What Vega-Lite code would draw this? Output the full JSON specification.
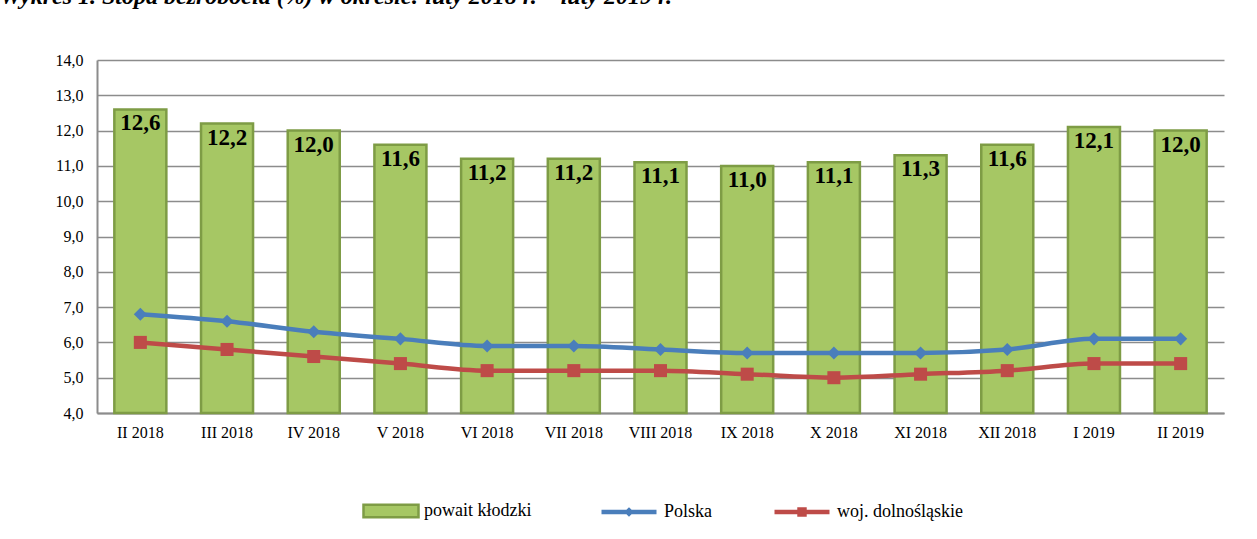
{
  "$schema": "https://vega.github.io/schema/vega-lite/v6.json",
  "width": 1127,
  "height": 353,
  "autosize": {"type": "none"},
  "padding": {"left": 97, "top": 60, "right": 33, "bottom": 126},
  "background": "white",
  "title": {
    "text": "Wykres 1. Stopa bezrobocia (%) w okresie: luty 2018 r. – luty 2019 r.",
    "anchor": "start",
    "frame": "group",
    "dx": -97,
    "offset": 24,
    "font": "Liberation Serif",
    "fontSize": 24,
    "fontStyle": "italic",
    "fontWeight": "bold",
    "color": "#000000",
    "baseline": "alphabetic"
  },
  "config": {
    "locale": {"number": {"decimal": ",", "thousands": " ", "grouping": [3], "currency": ["", " zł"]}},
    "view": {"stroke": null},
    "axis": {"labelFont": "Liberation Serif", "labelFontSize": 16, "labelColor": "#000000", "labelFontWeight": "normal"},
    "legend": {"labelFont": "Liberation Serif", "labelFontSize": 18, "labelColor": "#000000", "labelFontWeight": "normal"}
  },
  "data": {
    "values": [
      {"month": "II 2018", "series": "powait kłodzki", "value": 12.6},
      {"month": "III 2018", "series": "powait kłodzki", "value": 12.2},
      {"month": "IV 2018", "series": "powait kłodzki", "value": 12.0},
      {"month": "V 2018", "series": "powait kłodzki", "value": 11.6},
      {"month": "VI 2018", "series": "powait kłodzki", "value": 11.2},
      {"month": "VII 2018", "series": "powait kłodzki", "value": 11.2},
      {"month": "VIII 2018", "series": "powait kłodzki", "value": 11.1},
      {"month": "IX 2018", "series": "powait kłodzki", "value": 11.0},
      {"month": "X 2018", "series": "powait kłodzki", "value": 11.1},
      {"month": "XI 2018", "series": "powait kłodzki", "value": 11.3},
      {"month": "XII 2018", "series": "powait kłodzki", "value": 11.6},
      {"month": "I 2019", "series": "powait kłodzki", "value": 12.1},
      {"month": "II 2019", "series": "powait kłodzki", "value": 12.0},
      {"month": "II 2018", "series": "Polska", "value": 6.8},
      {"month": "III 2018", "series": "Polska", "value": 6.6},
      {"month": "IV 2018", "series": "Polska", "value": 6.3},
      {"month": "V 2018", "series": "Polska", "value": 6.1},
      {"month": "VI 2018", "series": "Polska", "value": 5.9},
      {"month": "VII 2018", "series": "Polska", "value": 5.9},
      {"month": "VIII 2018", "series": "Polska", "value": 5.8},
      {"month": "IX 2018", "series": "Polska", "value": 5.7},
      {"month": "X 2018", "series": "Polska", "value": 5.7},
      {"month": "XI 2018", "series": "Polska", "value": 5.7},
      {"month": "XII 2018", "series": "Polska", "value": 5.8},
      {"month": "I 2019", "series": "Polska", "value": 6.1},
      {"month": "II 2019", "series": "Polska", "value": 6.1},
      {"month": "II 2018", "series": "woj. dolnośląskie", "value": 6.0},
      {"month": "III 2018", "series": "woj. dolnośląskie", "value": 5.8},
      {"month": "IV 2018", "series": "woj. dolnośląskie", "value": 5.6},
      {"month": "V 2018", "series": "woj. dolnośląskie", "value": 5.4},
      {"month": "VI 2018", "series": "woj. dolnośląskie", "value": 5.2},
      {"month": "VII 2018", "series": "woj. dolnośląskie", "value": 5.2},
      {"month": "VIII 2018", "series": "woj. dolnośląskie", "value": 5.2},
      {"month": "IX 2018", "series": "woj. dolnośląskie", "value": 5.1},
      {"month": "X 2018", "series": "woj. dolnośląskie", "value": 5.0},
      {"month": "XI 2018", "series": "woj. dolnośląskie", "value": 5.1},
      {"month": "XII 2018", "series": "woj. dolnośląskie", "value": 5.2},
      {"month": "I 2019", "series": "woj. dolnośląskie", "value": 5.4},
      {"month": "II 2019", "series": "woj. dolnośląskie", "value": 5.4}
    ]
  },
  "encoding": {
    "x": {
      "field": "month",
      "type": "nominal",
      "scale": {
        "domain": ["II 2018", "III 2018", "IV 2018", "V 2018", "VI 2018", "VII 2018", "VIII 2018", "IX 2018", "X 2018", "XI 2018", "XII 2018", "I 2019", "II 2019"],
        "paddingInner": 0.4,
        "paddingOuter": 0.2
      },
      "axis": {
        "title": null,
        "labelAngle": 0,
        "labelFont": "Liberation Serif",
        "labelFontSize": 16,
        "labelFontWeight": "normal",
        "labelColor": "#000000",
        "ticks": false,
        "domain": true,
        "domainColor": "#8c8c8c",
        "domainWidth": 2,
        "labelPadding": 11,
        "grid": false
      }
    },
    "y": {
      "field": "value",
      "type": "quantitative",
      "scale": {"domain": [4, 14], "nice": false, "zero": false},
      "axis": {
        "title": null,
        "values": [4, 5, 6, 7, 8, 9, 10, 11, 12, 13, 14],
        "format": ".1f",
        "labelFont": "Liberation Serif",
        "labelFontSize": 16,
        "labelFontWeight": "normal",
        "labelColor": "#000000",
        "ticks": false,
        "domain": true,
        "domainColor": "#8c8c8c",
        "domainWidth": 2,
        "grid": true,
        "gridColor": "#8c8c8c",
        "gridWidth": 1.5,
        "labelPadding": 14
      }
    }
  },
  "layer": [
    {
      "transform": [{"filter": "datum.series === 'powait kłodzki'"}],
      "mark": {"type": "bar", "stroke": "#7e9c45", "strokeWidth": 2.5},
      "encoding": {
        "y2": {"datum": 4},
        "fill": {
          "field": "series",
          "type": "nominal",
          "scale": {"domain": ["powait kłodzki"], "range": ["#a6c764"]},
          "legend": {
            "orient": "none",
            "legendX": 265,
            "legendY": 422,
            "title": null,
            "padding": 0,
            "labelFont": "Liberation Serif",
            "labelFontSize": 18,
            "symbolType": "M-1,-0.23H1V0.23H-1Z",
            "symbolSize": 3025,
            "symbolStrokeColor": "#7e9c45",
            "symbolStrokeWidth": 2.5,
            "symbolOpacity": 1,
            "labelOffset": 4
          }
        }
      }
    },
    {
      "transform": [{"filter": "datum.series === 'Polska'"}],
      "mark": {"type": "line", "strokeWidth": 4.5, "interpolate": "monotone"},
      "encoding": {
        "color": {
          "field": "series",
          "type": "nominal",
          "scale": {"domain": ["Polska"], "range": ["#4a7ebb"]},
          "legend": {
            "orient": "none",
            "legendX": 502,
            "legendY": 422,
            "title": null,
            "padding": 0,
            "labelFont": "Liberation Serif",
            "labelFontSize": 18,
            "symbolType": "M-1,0H1M0,-0.06L0.06,0L0,0.06L-0.06,0Z",
            "symbolSize": 3025,
            "symbolStrokeWidth": 4.5,
            "symbolOpacity": 1,
            "labelOffset": 5
          }
        }
      }
    },
    {
      "transform": [{"filter": "datum.series === 'woj. dolnośląskie'"}],
      "mark": {"type": "line", "strokeWidth": 4.5, "interpolate": "monotone"},
      "encoding": {
        "stroke": {
          "field": "series",
          "type": "nominal",
          "scale": {"domain": ["woj. dolnośląskie"], "range": ["#be4b48"]},
          "legend": {
            "orient": "none",
            "legendX": 675,
            "legendY": 422,
            "title": null,
            "padding": 0,
            "labelFont": "Liberation Serif",
            "labelFontSize": 18,
            "symbolType": "M-1,0H1M-0.09,-0.09H0.09V0.09H-0.09Z",
            "symbolSize": 3025,
            "symbolStrokeWidth": 4.5,
            "symbolOpacity": 1,
            "labelOffset": 5
          }
        }
      }
    },
    {
      "transform": [{"filter": "datum.series === 'Polska'"}],
      "mark": {"type": "point", "filled": true, "opacity": 1, "size": 170, "shape": "diamond", "color": "#4a7ebb"}
    },
    {
      "transform": [{"filter": "datum.series === 'woj. dolnośląskie'"}],
      "mark": {"type": "point", "filled": true, "opacity": 1, "size": 170, "shape": "square", "color": "#be4b48"}
    },
    {
      "transform": [{"filter": "datum.series === 'powait kłodzki'"}],
      "mark": {
        "type": "text",
        "font": "Liberation Serif",
        "fontSize": 23,
        "fontWeight": "bold",
        "color": "#000000",
        "baseline": "alphabetic",
        "dy": 21
      },
      "encoding": {
        "text": {"field": "value", "type": "quantitative", "format": ".1f"}
      }
    }
  ]
}
